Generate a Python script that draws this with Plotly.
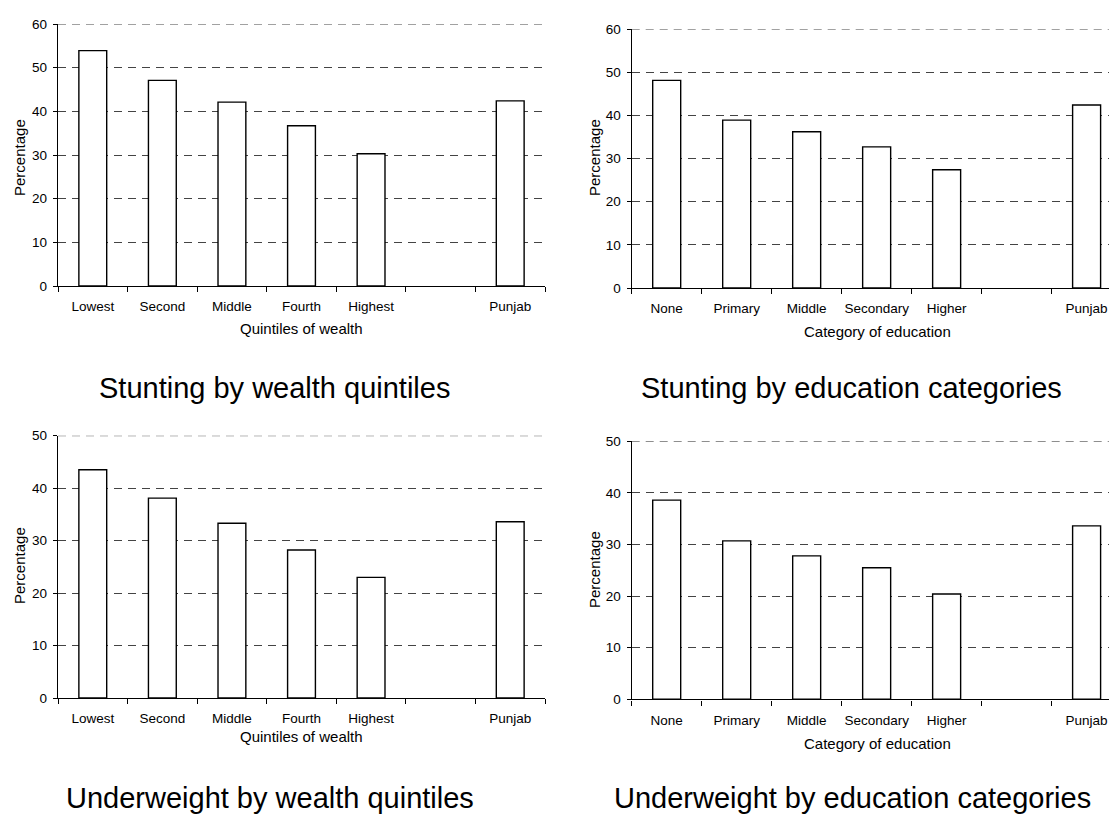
import plotly.graph_objects as go
from plotly.subplots import make_subplots

W, H = 1109, 814

# ---- data ----
wealth_cats = ["Lowest", "Second", "Middle", "Fourth", "Highest", " ", "Punjab"]
edu_cats = ["None", "Primary", "Middle", "Secondary", "Higher", " ", "Punjab"]
stunting_wealth = [53.9, 47.1, 42.1, 36.7, 30.3, None, 42.4]
stunting_edu = [48.1, 38.9, 36.2, 32.7, 27.4, None, 42.4]
underweight_wealth = [43.5, 38.1, 33.3, 28.2, 23.0, None, 33.6]
underweight_edu = [38.6, 30.7, 27.8, 25.5, 20.4, None, 33.6]
y_max = [60, 60, 50, 50]

panel_titles = ["Stunting by wealth quintiles", "Stunting by education categories",
                "Underweight by wealth quintiles", "Underweight by education categories"]
x_titles = ["Quintiles of wealth", "Category of education",
            "Quintiles of wealth", "Category of education"]
y_title = "Percentage"

FONT = "Arial, Liberation Sans, sans-serif"
GRID = dict(color="#444444", width=1, dash="8px,6px")

fig = make_subplots(rows=2, cols=2)

panels = [
    (1, 1, wealth_cats, stunting_wealth),
    (1, 2, edu_cats, stunting_edu),
    (2, 1, wealth_cats, underweight_wealth),
    (2, 2, edu_cats, underweight_edu),
]

# pixel layout of each plot area: (left, right, top, bottom)
boxes = [
    (58, 545, 24, 286),
    (631.7, 1109, 29, 288),
    (58, 545, 435.7, 698),
    (631.7, 1109, 441.3, 699.3),
]
xranges = [[-0.5, 6.5], [-0.5, 6.32], [-0.5, 6.5], [-0.5, 6.32]]

for i, (r, c, cats, vals) in enumerate(panels):
    ymax = y_max[i]
    fig.add_trace(go.Bar(x=cats, y=vals, width=0.4,
                         marker=dict(color="white", line=dict(color="black", width=1.4)),
                         showlegend=False), row=r, col=c)
    l, rt, t, b = boxes[i]
    fig.update_xaxes(type="category", categoryorder="array", categoryarray=cats,
                     range=xranges[i], domain=[l / W, rt / W], automargin=False,
                     tickson="boundaries", ticks="outside", ticklen=5, tickcolor="black",
                     tickwidth=1.2, tickangle=0, ticklabelstandoff=8,
                     showline=True, linecolor="black", linewidth=1.4, showgrid=False,
                     zeroline=False,
                     tickfont=dict(size=13.5, color="black", family=FONT),
                     row=r, col=c)
    fig.update_yaxes(range=[0, ymax], dtick=10, tick0=0, domain=[1 - b / H, 1 - t / H],
                     automargin=False,
                     ticks="outside", ticklen=4, tickcolor="black", tickwidth=1.2,
                     ticklabelstandoff=3,
                     showline=True, linecolor="black", linewidth=1.4,
                     showgrid=True, gridcolor=GRID["color"], gridwidth=GRID["width"],
                     griddash=GRID["dash"],
                     zeroline=False,
                     tickfont=dict(size=13.5, color="black", family=FONT),
                     row=r, col=c)
    # dashed gridline at the top tick (plotly omits the gridline at the range edge)
    fig.add_hline(y=ymax, line=GRID, layer="below", row=r, col=c)

annotations = []
# y-axis titles
ytitle_pos = [(19, 158), (594, 158), (19, 566), (594, 570)]
for (x, y) in ytitle_pos:
    annotations.append(dict(text=y_title, x=x / W, y=1 - y / H, xref="paper", yref="paper",
                            showarrow=False, textangle=-90, xanchor="center", yanchor="middle",
                            font=dict(size=15, color="black", family=FONT)))
# x-axis titles
xtitle_pos = [(301, 329), (877, 332), (301, 736), (877, 743)]
for txt, (x, y) in zip(x_titles, xtitle_pos):
    annotations.append(dict(text=txt, x=x / W, y=1 - y / H, xref="paper", yref="paper",
                            showarrow=False, xanchor="center", yanchor="middle",
                            font=dict(size=15, color="black", family=FONT)))
# panel titles
ptitle_pos = [(274, 388), (851, 388), (270, 798), (852, 798)]
for txt, (x, y) in zip(panel_titles, ptitle_pos):
    annotations.append(dict(text=txt, x=x / W, y=1 - y / H, xref="paper", yref="paper",
                            showarrow=False, xanchor="center", yanchor="middle",
                            font=dict(size=29, color="black", family=FONT)))

fig.update_layout(template="none", width=W, height=H, autosize=False,
                  margin=dict(l=0, r=0, t=0, b=0, pad=0),
                  paper_bgcolor="white", plot_bgcolor="white",
                  bargap=0.6, showlegend=False,
                  font=dict(family=FONT, color="black"))
fig.update_layout(annotations=list(fig.layout.annotations) + annotations)

fig.write_html("out.html", config={"displayModeBar": False},
               post_script="document.body.style.margin='0';document.body.style.padding='0';"
                           "document.documentElement.style.overflow='hidden';")
